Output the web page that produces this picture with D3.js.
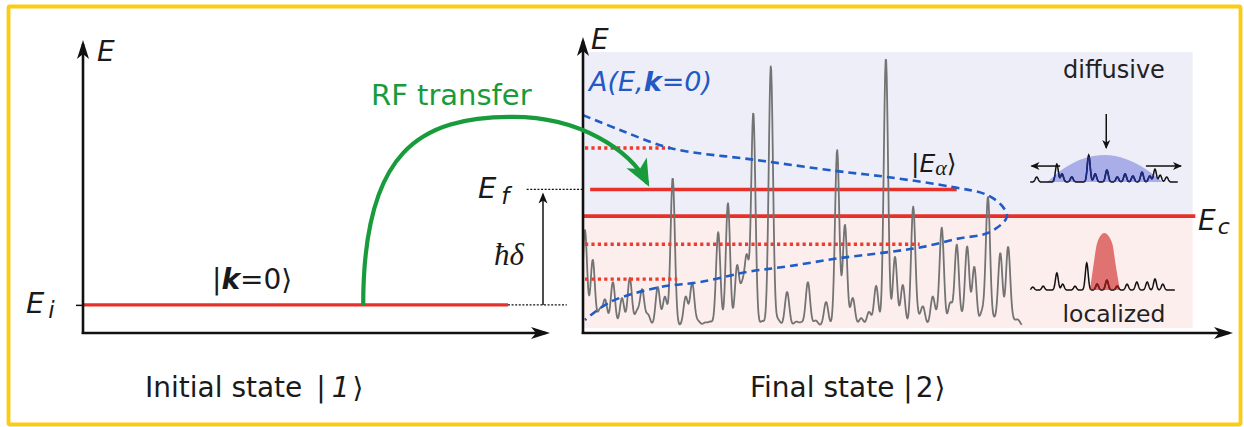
<!DOCTYPE html>
<html><head><meta charset="utf-8">
<script src="https://cdn.jsdelivr.net/npm/d3@7"></script>
<style>
body{margin:0;background:#fff}
svg{display:block}
text{font-family:"DejaVu Sans",sans-serif;fill:#1a1a1a}
</style>
</head><body>
<svg id="c" width="1244" height="427"></svg>
<script>
// ---------- data (energies in arbitrary units, positions in panel units) ----------
const E_i = 0.95, E_f = 4.85, E_c = 3.95;
const dottedLevels = [6.25, 3.0, 1.82];
const dottedEnds   = [13.4, 51.8, 14.5];
// spectral function A(E,k=0): sideways curve (A along x, E along y)
const aCurveE = [7.36, 6.86, 6.25, 5.84, 5.47, 5.27, 4.93, 4.66, 4.26, 3.92, 3.41, 3.18, 2.91, 2.74, 2.53, 2.26, 2.06, 1.72, 1.55, 1.05, 0.44];
const aCurveA = [0.0, 5.7, 13.4, 26.8, 39.1, 46.8, 56.9, 62.2, 64.6, 65.2, 62.6, 57.5, 52.3, 47.2, 39.5, 31.8, 25.2, 18.0, 11.8, 4.2, 0.3];
// eigenstate spectrum peaks |E_alpha>
const specPos = [0.3,1.5,2.6,3.4,4.6,6.0,7.2,8.3,9.1,10.0,11.5,12.6,13.8,15.8,16.8,17.7,18.8,19.6,20.8,22.3,23.7,24.5,25.2,26.2,27.6,28.9,30.0,31.4,32.8,33.6,34.6,35.8,37.4,39.1,40.3,41.5,42.8,44.0,45.1,46.6,48.0,49.2,50.8,51.6,52.3,53.8,54.6,55.2,56.5,57.5,58.3,59.1,60.2,61.4,62.3,63.3,64.2,65.4,66.2,66.9];
const specTop = [3.48,2.47,0.78,1.11,1.72,1.18,1.86,0.71,1.45,0.61,1.55,1.22,5.24,1.22,1.69,0.40,0.35,0.38,3.41,4.39,2.23,1.45,2.47,7.43,0.40,9.02,0.45,1.39,0.38,0.35,1.72,0.42,1.05,6.18,3.65,1.18,0.50,0.71,1.59,9.29,2.57,1.62,4.26,0.45,0.88,1.22,0.50,3.51,1.01,2.97,0.45,2.91,2.23,0.71,4.59,0.45,2.70,2.91,0.40,0.44];
const specBase = 0.25;
// inset: diffusive state
const diffPos = [69.8,72.9,73.7,75.2,77.8,78.8,80.6,82.2,83.4,84.6,86.0,87.2,88.0,88.8,89.8];
const diffAmp = [1.7,6.0,2.7,1.7,9.0,2.7,4.0,1.7,2.7,2.0,3.3,2.0,4.3,2.3,1.7];
const diffDomeU = [71.4,74.3,76.8,80.3,83.5,86.6,89.2];
const diffDomeH = [0,5.0,7.7,9.0,7.7,4.3,0];
// inset: localized state
const locPos = [69.2,70.8,72.9,73.8,75.7,77.5,79.1,80.6,82.2,83.7,85.2,86.8,88.0,89.2];
const locAmp = [1.0,1.3,5.7,2.0,1.3,9.0,2.0,3.3,1.3,2.0,2.7,2.7,3.7,2.0];
const locBumpU = [78.0,78.5,79.1,80.2,81.4,82.0,82.6];
const locBumpH = [0,7.7,15.7,19.0,15.7,7.7,0];

// ---------- scales ----------
const yE = d3.scaleLinear().domain([0, 10]).range([333, 37]);
const xL = d3.scaleLinear().domain([0, 10]).range([83, 550]);
const xR = d3.scaleLinear().domain([0, 100]).range([583, 1233]);
const amp = d3.scaleLinear().domain([0, 10]).range([0, 30]);

const svg = d3.select("#c");
const defs = svg.append("defs");
function marker(id, len, halfW, notch, color, ext) {
  defs.append("marker").attr("id", id).attr("markerUnits", "userSpaceOnUse")
    .attr("viewBox", `${-len - 2} ${-halfW - 2} ${len + ext + 4} ${2 * halfW + 4}`)
    .attr("markerWidth", len + ext + 4).attr("markerHeight", 2 * halfW + 4)
    .attr("refX", 0).attr("refY", 0).attr("orient", "auto")
    .append("path")
    .attr("d", `M${ext},0L${-len + ext},${-halfW}L${-len + notch + ext},0L${-len + ext},${halfW}Z`)
    .attr("fill", color);
}
marker("axArrow", 19, 6, 5, "#111", 4);
marker("smArrow", 11, 4.5, 3, "#111", 2);
marker("tinyArrow", 9, 4, 2.5, "#111", 1);
marker("grArrow", 27, 11.5, 7, "#179b3b", 4);

// frame
svg.append("rect").attr("x", 8.5).attr("y", 6.5).attr("width", 1232).attr("height", 418)
  .attr("fill", "none").attr("stroke", "#fdcc12").attr("stroke-width", 3.8).attr("rx", 1.5);

// ---------- right panel backgrounds ----------
svg.append("rect").attr("x", xR(0)).attr("y", yE(9.49))
  .attr("width", xR(93.8) - xR(0)).attr("height", yE(E_c) - yE(9.49)).attr("fill", "#eeeef8");
svg.append("rect").attr("x", xR(0)).attr("y", yE(E_c))
  .attr("width", xR(93.8) - xR(0)).attr("height", yE(0.17) - yE(E_c)).attr("fill", "#fdeeee");

// ---------- left panel ----------
svg.append("line").attr("x1", xL(0)).attr("x2", xL(9.1)).attr("y1", yE(E_i)).attr("y2", yE(E_i))
  .attr("stroke", "#e8302a").attr("stroke-width", 3.2);
svg.append("line").attr("x1", xL(9.1)).attr("x2", xL(10.36)).attr("y1", yE(E_i)).attr("y2", yE(E_i))
  .attr("stroke", "#111").attr("stroke-width", 1.3).attr("stroke-dasharray", "2,1.6");
svg.append("line").attr("x1", xL(9.5)).attr("x2", xR(0)).attr("y1", yE(E_f)).attr("y2", yE(E_f))
  .attr("stroke", "#111").attr("stroke-width", 1.3).attr("stroke-dasharray", "2,1.6");
svg.append("line").attr("x1", xL(9.85)).attr("x2", xL(9.85)).attr("y1", yE(E_i)).attr("y2", yE(E_f) + 5)
  .attr("stroke", "#111").attr("stroke-width", 1.5).attr("marker-end", "url(#smArrow)");
svg.append("g").attr("transform", `translate(${xL(0)},0)`)
  .call(d3.axisLeft(yE).tickValues([E_i]).tickSize(7).tickFormat(""))
  .call(g => g.select(".domain").remove())
  .call(g => g.selectAll("line").attr("stroke", "#111").attr("stroke-width", 1.5));
svg.append("line").attr("x1", xL(0)).attr("x2", xL(0)).attr("y1", yE(0) + 1).attr("y2", yE(9.9) + 4)
  .attr("stroke", "#111").attr("stroke-width", 2.6).attr("marker-end", "url(#axArrow)");
svg.append("line").attr("x1", xL(0) - 1.3).attr("x2", xL(10) - 4).attr("y1", yE(0)).attr("y2", yE(0))
  .attr("stroke", "#111").attr("stroke-width", 2.6).attr("marker-end", "url(#axArrow)");

// ---------- right panel ----------
svg.append("line").attr("x1", xR(0)).attr("x2", xR(94.2)).attr("y1", yE(E_c)).attr("y2", yE(E_c))
  .attr("stroke", "#e8302a").attr("stroke-width", 3.6);
svg.append("line").attr("x1", xR(1.1)).attr("x2", xR(57.5)).attr("y1", yE(E_f)).attr("y2", yE(E_f))
  .attr("stroke", "#e8302a").attr("stroke-width", 3.6);

// spectrum (narrow line shapes at the read peak positions)
const sig = 0.33;
const us = d3.range(0, 67.6, 0.08);
const specPts = us.map(u => {
  let v = specBase;
  specPos.forEach((p, i) => { v += (specTop[i] - specBase) * Math.exp(-((u - p) ** 2) / (2 * sig * sig)); });
  return [u, v];
});
svg.append("path").datum(specPts)
  .attr("d", d3.line().x(d => xR(d[0])).y(d => yE(d[1])))
  .attr("fill", "none").attr("stroke", "#737373").attr("stroke-width", 1.8).attr("stroke-linejoin", "round");

svg.selectAll(".dl").data(dottedLevels).join("line")
  .attr("x1", xR(0) + 2).attr("x2", (d, i) => xR(dottedEnds[i]))
  .attr("y1", d => yE(d)).attr("y2", d => yE(d))
  .attr("stroke", "#f03a2a").attr("stroke-width", 3.4).attr("stroke-dasharray", "3.2,3.2");

svg.append("path").datum(aCurveE.map((e, i) => [aCurveA[i], e]))
  .attr("d", d3.line().x(d => xR(d[0])).y(d => yE(d[1])).curve(d3.curveCatmullRom.alpha(0.5)))
  .attr("fill", "none").attr("stroke", "#1f5cc6").attr("stroke-width", 2.6).attr("stroke-dasharray", "8,5");

svg.append("line").attr("x1", xR(0)).attr("x2", xR(0)).attr("y1", yE(0) + 1).attr("y2", yE(10) + 4)
  .attr("stroke", "#111").attr("stroke-width", 2.6).attr("marker-end", "url(#axArrow)");
svg.append("line").attr("x1", xR(0) - 1.3).attr("x2", xR(100) - 4).attr("y1", yE(0)).attr("y2", yE(0))
  .attr("stroke", "#111").attr("stroke-width", 2.6).attr("marker-end", "url(#axArrow)");

// ---------- insets ----------
function noisy(pos, ampArr, u0, u1, baseE) {
  const pts = d3.range(u0, u1, 0.05).map(u => {
    let v = 0;
    pos.forEach((p, i) => { v += ampArr[i] * Math.exp(-((u - p) ** 2) / (2 * 0.22 * 0.22)); });
    return [xR(u), yE(baseE) - amp(v)];
  });
  return d3.line()(pts);
}
const diffBase = 5.1, locBase = 1.45;
const domePath = d3.area().x(d => xR(d[0])).y0(yE(diffBase)).y1(d => yE(diffBase) - amp(d[1]))
  .curve(d3.curveMonotoneX)(diffDomeU.map((u, i) => [u, diffDomeH[i]]));
svg.append("path").attr("d", domePath).attr("fill", "#a9aee8");
defs.append("clipPath").attr("id", "domeClip").append("path").attr("d", domePath);
const diffLine = noisy(diffPos, diffAmp, 68.8, 91.5, diffBase);
svg.append("path").attr("d", diffLine).attr("fill", "none").attr("stroke", "#111").attr("stroke-width", 1.5);
svg.append("path").attr("d", diffLine).attr("fill", "none").attr("stroke", "#1a2a86").attr("stroke-width", 1.6)
  .attr("clip-path", "url(#domeClip)");
svg.append("line").attr("x1", xR(80.5)).attr("x2", xR(80.5)).attr("y1", yE(7.4)).attr("y2", yE(6.18) - 2)
  .attr("stroke", "#111").attr("stroke-width", 1.5).attr("marker-end", "url(#tinyArrow)");
svg.append("line").attr("x1", xR(73.4)).attr("x2", xR(69.0)).attr("y1", yE(5.64)).attr("y2", yE(5.64))
  .attr("stroke", "#111").attr("stroke-width", 1.5).attr("marker-end", "url(#tinyArrow)");
svg.append("line").attr("x1", xR(86.6)).attr("x2", xR(92.0)).attr("y1", yE(5.64)).attr("y2", yE(5.64))
  .attr("stroke", "#111").attr("stroke-width", 1.5).attr("marker-end", "url(#tinyArrow)");
const bumpPath = d3.area().x(d => xR(d[0])).y0(yE(locBase)).y1(d => yE(locBase) - amp(d[1]))
  .curve(d3.curveMonotoneX)(locBumpU.map((u, i) => [u, locBumpH[i]]));
svg.append("path").attr("d", bumpPath).attr("fill", "#e07272");
defs.append("clipPath").attr("id", "bumpClip").append("path").attr("d", bumpPath);
const locLine = noisy(locPos, locAmp, 68.8, 91.1, locBase);
svg.append("path").attr("d", locLine).attr("fill", "none").attr("stroke", "#111").attr("stroke-width", 1.5);
svg.append("path").attr("d", locLine).attr("fill", "none").attr("stroke", "#8a1a1a").attr("stroke-width", 1.6)
  .attr("clip-path", "url(#bumpClip)");

// ---------- RF transfer arrow ----------
const rf = d3.path();
rf.moveTo(xL(6.0), yE(E_i));
rf.bezierCurveTo(xL(6.0), yE(6.18), xL(7.22), yE(7.3), xL(9.21), yE(7.3));
rf.bezierCurveTo(xL(10.64), yE(7.3), xR(7.2), yE(6.18), xR(9.9), yE(5.06));
svg.append("path").attr("d", rf.toString()).attr("fill", "none").attr("stroke", "#179b3b")
  .attr("stroke-width", 4.2).attr("marker-end", "url(#grArrow)");

// ---------- text ----------
function txt(x, y, size, opts = {}) {
  const t = svg.append("text").attr("x", x).attr("y", y).style("font-size", size + "px");
  if (opts.anchor) t.attr("text-anchor", opts.anchor);
  if (opts.fill) t.style("fill", opts.fill);
  if (opts.style) t.style("font-style", opts.style);
  if (opts.family) t.style("font-family", opts.family);
  return t;
}
txt(97, 61, 28, {style: "italic"}).text("E");
txt(591, 49, 28, {style: "italic"}).text("E");
let t = txt(26, 313, 29, {style: "italic"});
t.append("tspan").text("E");
t.append("tspan").attr("dx", 4).attr("dy", 5).style("font-size", "23px").text("i");
t = txt(478, 198, 29, {style: "italic"});
t.append("tspan").text("E");
t.append("tspan").attr("dx", 5).attr("dy", 6).style("font-size", "23px").text("f");
t = txt(1198, 230, 28, {style: "italic"});
t.append("tspan").text("E");
t.append("tspan").attr("dx", 2).attr("dy", 4).style("font-size", "22px").text("c");
t = txt(212, 289, 28);
t.append("tspan").text("|");
t.append("tspan").style("font-weight", "bold").style("font-style", "italic").text("k");
t.append("tspan").text("=0⟩");
txt(371, 105, 29, {fill: "#179b3b"}).text("RF transfer");
txt(494, 265, 31, {style: "italic", family: "'Liberation Serif',serif"}).text("ħδ");
t = txt(589, 91, 27, {style: "italic", fill: "#2259c4"});
t.append("tspan").style("fill", "#2259c4").text("A(E,");
t.append("tspan").style("fill", "#2259c4").style("font-weight", "bold").text("k");
t.append("tspan").style("fill", "#2259c4").text("=0)");
t = txt(911, 172, 25);
t.append("tspan").text("|");
t.append("tspan").style("font-style", "italic").text("E");
t.append("tspan").attr("dy", 3).style("font-family", "'Liberation Serif',serif").style("font-style", "italic").style("font-size", "22px").text("α");
t.append("tspan").attr("dy", -3).text("⟩");
txt(1114, 78, 24, {anchor: "middle", fill: "#222"}).text("diffusive");
txt(1114, 322, 23.5, {anchor: "middle", fill: "#222"}).text("localized");
t = txt(145, 397, 28);
t.append("tspan").text("Initial state ");
t.append("tspan").attr("dx", 5).text("|");
t.append("tspan").attr("dx", 6).style("font-style", "italic").text("1");
t.append("tspan").attr("dx", 3).text("⟩");
t = txt(750, 397, 28);
t.append("tspan").text("Final state ");
t.append("tspan").text("|");
t.append("tspan").attr("dx", 3).text("2");
t.append("tspan").attr("dx", 1).text("⟩");
</script>
</body></html>
